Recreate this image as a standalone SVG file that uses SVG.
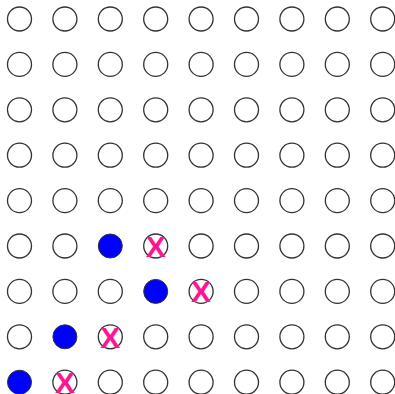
<svg xmlns="http://www.w3.org/2000/svg" width="395" height="394" viewBox="0 0 395 394">
<style>
.c{fill:#fff;stroke:#333;stroke-width:1.3}
.f{fill:#0000ff;stroke:#333;stroke-width:1}
.x{fill:#ff1493;font-family:"Liberation Sans",Arial,sans-serif;font-weight:bold;font-size:30px;text-anchor:middle}
</style>
<rect width="395" height="394" fill="#fff"/>
<g id="r0">
<g id="n0_0"><circle class="c" cx="19.5" cy="19" r="12"/></g>
<g id="n0_1"><circle class="c" cx="64.9" cy="19" r="12"/></g>
<g id="n0_2"><circle class="c" cx="110.3" cy="19" r="12"/></g>
<g id="n0_3"><circle class="c" cx="155.7" cy="19" r="12"/></g>
<g id="n0_4"><circle class="c" cx="201.1" cy="19" r="12"/></g>
<g id="n0_5"><circle class="c" cx="246.5" cy="19" r="12"/></g>
<g id="n0_6"><circle class="c" cx="291.9" cy="19" r="12"/></g>
<g id="n0_7"><circle class="c" cx="337.3" cy="19" r="12"/></g>
<g id="n0_8"><circle class="c" cx="382.7" cy="19" r="12"/></g>
</g>
<g id="r1">
<g id="n1_0"><circle class="c" cx="19.5" cy="64.4" r="12"/></g>
<g id="n1_1"><circle class="c" cx="64.9" cy="64.4" r="12"/></g>
<g id="n1_2"><circle class="c" cx="110.3" cy="64.4" r="12"/></g>
<g id="n1_3"><circle class="c" cx="155.7" cy="64.4" r="12"/></g>
<g id="n1_4"><circle class="c" cx="201.1" cy="64.4" r="12"/></g>
<g id="n1_5"><circle class="c" cx="246.5" cy="64.4" r="12"/></g>
<g id="n1_6"><circle class="c" cx="291.9" cy="64.4" r="12"/></g>
<g id="n1_7"><circle class="c" cx="337.3" cy="64.4" r="12"/></g>
<g id="n1_8"><circle class="c" cx="382.7" cy="64.4" r="12"/></g>
</g>
<g id="r2">
<g id="n2_0"><circle class="c" cx="19.5" cy="109.8" r="12"/></g>
<g id="n2_1"><circle class="c" cx="64.9" cy="109.8" r="12"/></g>
<g id="n2_2"><circle class="c" cx="110.3" cy="109.8" r="12"/></g>
<g id="n2_3"><circle class="c" cx="155.7" cy="109.8" r="12"/></g>
<g id="n2_4"><circle class="c" cx="201.1" cy="109.8" r="12"/></g>
<g id="n2_5"><circle class="c" cx="246.5" cy="109.8" r="12"/></g>
<g id="n2_6"><circle class="c" cx="291.9" cy="109.8" r="12"/></g>
<g id="n2_7"><circle class="c" cx="337.3" cy="109.8" r="12"/></g>
<g id="n2_8"><circle class="c" cx="382.7" cy="109.8" r="12"/></g>
</g>
<g id="r3">
<g id="n3_0"><circle class="c" cx="19.5" cy="155.2" r="12"/></g>
<g id="n3_1"><circle class="c" cx="64.9" cy="155.2" r="12"/></g>
<g id="n3_2"><circle class="c" cx="110.3" cy="155.2" r="12"/></g>
<g id="n3_3"><circle class="c" cx="155.7" cy="155.2" r="12"/></g>
<g id="n3_4"><circle class="c" cx="201.1" cy="155.2" r="12"/></g>
<g id="n3_5"><circle class="c" cx="246.5" cy="155.2" r="12"/></g>
<g id="n3_6"><circle class="c" cx="291.9" cy="155.2" r="12"/></g>
<g id="n3_7"><circle class="c" cx="337.3" cy="155.2" r="12"/></g>
<g id="n3_8"><circle class="c" cx="382.7" cy="155.2" r="12"/></g>
</g>
<g id="r4">
<g id="n4_0"><circle class="c" cx="19.5" cy="200.6" r="12"/></g>
<g id="n4_1"><circle class="c" cx="64.9" cy="200.6" r="12"/></g>
<g id="n4_2"><circle class="c" cx="110.3" cy="200.6" r="12"/></g>
<g id="n4_3"><circle class="c" cx="155.7" cy="200.6" r="12"/></g>
<g id="n4_4"><circle class="c" cx="201.1" cy="200.6" r="12"/></g>
<g id="n4_5"><circle class="c" cx="246.5" cy="200.6" r="12"/></g>
<g id="n4_6"><circle class="c" cx="291.9" cy="200.6" r="12"/></g>
<g id="n4_7"><circle class="c" cx="337.3" cy="200.6" r="12"/></g>
<g id="n4_8"><circle class="c" cx="382.7" cy="200.6" r="12"/></g>
</g>
<g id="r5">
<g id="n5_0"><circle class="c" cx="19.5" cy="246" r="12"/></g>
<g id="n5_1"><circle class="c" cx="64.9" cy="246" r="12"/></g>
<g id="n5_2"><circle class="f" cx="110.3" cy="246" r="12"/></g>
<g id="n5_3"><circle class="c" cx="155.7" cy="246" r="12"/><text class="x" x="155.7" y="256.8">X</text></g>
<g id="n5_4"><circle class="c" cx="201.1" cy="246" r="12"/></g>
<g id="n5_5"><circle class="c" cx="246.5" cy="246" r="12"/></g>
<g id="n5_6"><circle class="c" cx="291.9" cy="246" r="12"/></g>
<g id="n5_7"><circle class="c" cx="337.3" cy="246" r="12"/></g>
<g id="n5_8"><circle class="c" cx="382.7" cy="246" r="12"/></g>
</g>
<g id="r6">
<g id="n6_0"><circle class="c" cx="19.5" cy="291.4" r="12"/></g>
<g id="n6_1"><circle class="c" cx="64.9" cy="291.4" r="12"/></g>
<g id="n6_2"><circle class="c" cx="110.3" cy="291.4" r="12"/></g>
<g id="n6_3"><circle class="f" cx="155.7" cy="291.4" r="12"/></g>
<g id="n6_4"><circle class="c" cx="201.1" cy="291.4" r="12"/><text class="x" x="201.1" y="302.2">X</text></g>
<g id="n6_5"><circle class="c" cx="246.5" cy="291.4" r="12"/></g>
<g id="n6_6"><circle class="c" cx="291.9" cy="291.4" r="12"/></g>
<g id="n6_7"><circle class="c" cx="337.3" cy="291.4" r="12"/></g>
<g id="n6_8"><circle class="c" cx="382.7" cy="291.4" r="12"/></g>
</g>
<g id="r7">
<g id="n7_0"><circle class="c" cx="19.5" cy="336.8" r="12"/></g>
<g id="n7_1"><circle class="f" cx="64.9" cy="336.8" r="12"/></g>
<g id="n7_2"><circle class="c" cx="110.3" cy="336.8" r="12"/><text class="x" x="110.3" y="347.6">X</text></g>
<g id="n7_3"><circle class="c" cx="155.7" cy="336.8" r="12"/></g>
<g id="n7_4"><circle class="c" cx="201.1" cy="336.8" r="12"/></g>
<g id="n7_5"><circle class="c" cx="246.5" cy="336.8" r="12"/></g>
<g id="n7_6"><circle class="c" cx="291.9" cy="336.8" r="12"/></g>
<g id="n7_7"><circle class="c" cx="337.3" cy="336.8" r="12"/></g>
<g id="n7_8"><circle class="c" cx="382.7" cy="336.8" r="12"/></g>
</g>
<g id="r8">
<g id="n8_0"><circle class="f" cx="19.5" cy="382.2" r="12"/></g>
<g id="n8_1"><circle class="c" cx="64.9" cy="382.2" r="12"/><text class="x" x="64.9" y="393">X</text></g>
<g id="n8_2"><circle class="c" cx="110.3" cy="382.2" r="12"/></g>
<g id="n8_3"><circle class="c" cx="155.7" cy="382.2" r="12"/></g>
<g id="n8_4"><circle class="c" cx="201.1" cy="382.2" r="12"/></g>
<g id="n8_5"><circle class="c" cx="246.5" cy="382.2" r="12"/></g>
<g id="n8_6"><circle class="c" cx="291.9" cy="382.2" r="12"/></g>
<g id="n8_7"><circle class="c" cx="337.3" cy="382.2" r="12"/></g>
<g id="n8_8"><circle class="c" cx="382.7" cy="382.2" r="12"/></g>
</g>
<g id="connectors"/>
</svg>
